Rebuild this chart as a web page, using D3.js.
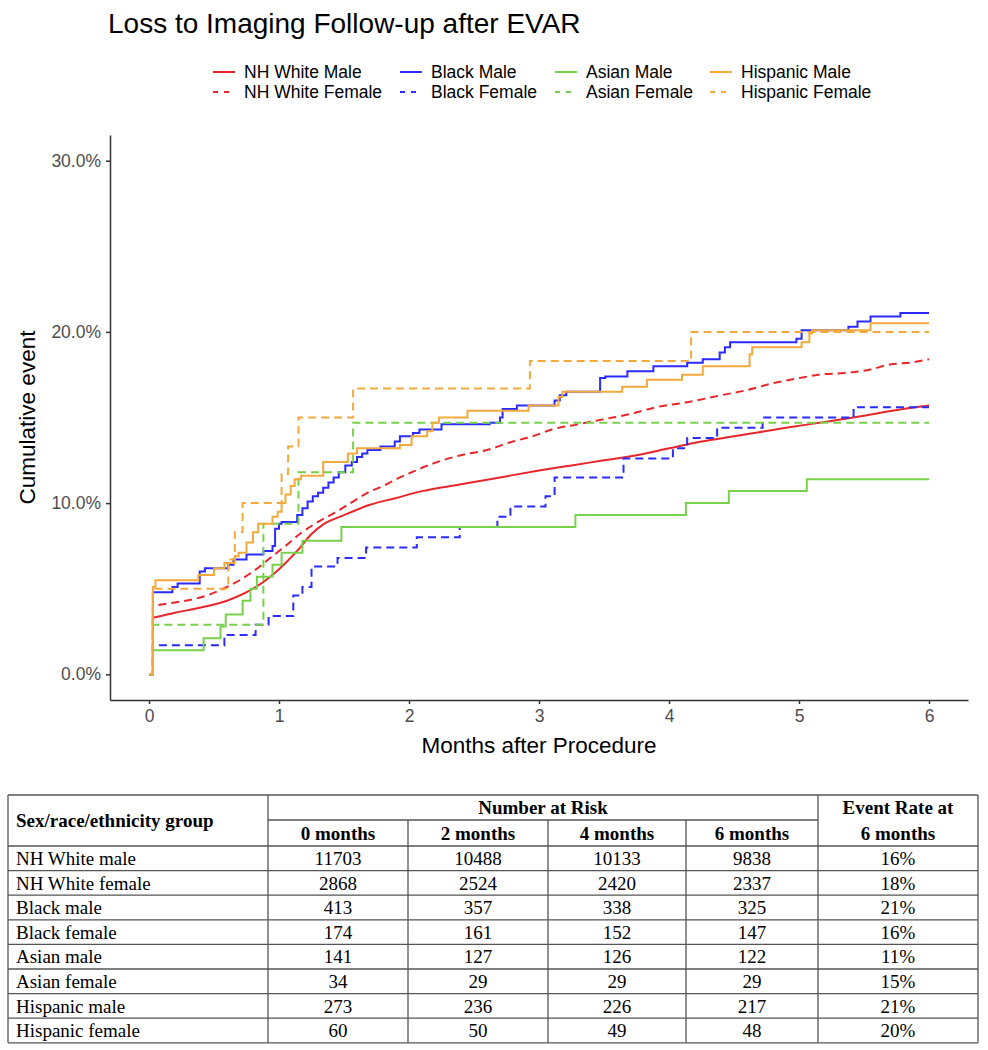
<!DOCTYPE html>
<html>
<head>
<meta charset="utf-8">
<script src="https://cdn.jsdelivr.net/npm/d3@7"></script>
<style>
  body { margin: 0; background: #fff; }
  svg { display: block; }
</style>
</head>
<body>
<svg id="chart" width="988" height="1050"></svg>
<script>
// ---------------- DATA ----------------
const groups = ["NH White Male", "NH White Female", "Black Male", "Black Female",
                "Asian Male", "Asian Female", "Hispanic Male", "Hispanic Female"];
const groupColors = ["#E8262A", "#E8262A", "#2B2BFF", "#2B2BFF", "#78D14B", "#78D14B", "#F3A93C", "#F3A93C"];
const groupDashed = [false, true, false, true, false, true, false, true];

// [months, cumulative event %]
const nhWhiteMale = [[0,0],[0.03,3.3],[0.2,3.6],[0.4,3.9],[0.6,4.3],[0.8,5.0],[0.95,5.8],[1.05,6.5],[1.15,7.3],[1.25,8.2],[1.35,8.8],[1.5,9.3],[1.7,9.9],[1.9,10.3],[2.1,10.7],[2.4,11.1],[2.7,11.5],[3.0,11.9],[3.25,12.2],[3.5,12.5],[3.75,12.8],[4.0,13.2],[4.25,13.6],[4.5,13.9],[4.9,14.4],[5.25,14.8],[5.5,15.1],[5.8,15.5],[6.0,15.7]];
const nhWhiteFemale = [[0,0],[0.03,4.0],[0.2,4.2],[0.4,4.5],[0.6,5.1],[0.8,6.0],[0.95,6.9],[1.05,7.5],[1.16,8.2],[1.3,8.9],[1.42,9.4],[1.55,10.0],[1.68,10.6],[1.8,11.0],[1.93,11.5],[2.05,11.9],[2.18,12.3],[2.4,12.8],[2.6,13.1],[2.8,13.6],[2.95,13.9],[3.1,14.3],[3.3,14.6],[3.5,14.9],[3.7,15.2],[3.9,15.6],[4.15,15.9],[4.4,16.3],[4.6,16.6],[4.8,17.0],[5.0,17.3],[5.15,17.5],[5.35,17.6],[5.55,17.8],[5.7,18.1],[5.85,18.2],[6.0,18.4]];
const blackMale = [[0,0],[0.03,4.8],[0.18,5.1],[0.22,5.3],[0.39,6.0],[0.43,6.2],[0.61,6.4],[0.65,6.7],[0.75,7.0],[0.88,7.2],[0.95,7.5],[0.97,8.5],[1.0,8.8],[1.02,8.9],[1.14,9.3],[1.18,9.7],[1.22,10.1],[1.26,10.4],[1.3,10.6],[1.34,10.9],[1.38,11.2],[1.42,11.5],[1.46,11.8],[1.51,12.2],[1.56,12.4],[1.6,12.7],[1.64,12.9],[1.68,13.1],[1.78,13.3],[1.89,13.6],[1.93,13.9],[2.03,14.1],[2.08,14.3],[2.25,14.6],[2.62,14.7],[2.7,15.0],[2.72,15.5],[2.83,15.7],[3.12,16.0],[3.16,16.3],[3.21,16.5],[3.47,17.3],[3.51,17.4],[3.68,17.7],[3.88,18.0],[4.14,18.2],[4.26,18.4],[4.39,18.8],[4.43,19.1],[4.47,19.4],[4.98,19.6],[5.02,20.1],[5.38,20.3],[5.45,20.6],[5.55,20.9],[5.78,21.1],[6.0,21.1]];
const blackFemale = [[0,0],[0.03,1.7],[0.58,2.3],[0.82,2.9],[0.92,3.4],[1.11,4.6],[1.18,5.1],[1.25,6.3],[1.45,6.8],[1.67,7.4],[2.06,8.0],[2.39,8.6],[2.68,9.2],[2.78,9.8],[3.05,10.4],[3.12,11.5],[3.65,12.6],[4.03,13.2],[4.14,13.8],[4.37,14.4],[4.72,15.0],[5.42,15.6],[6.0,15.6]];
const asianMale = [[0,0],[0.03,1.4],[0.42,2.1],[0.55,2.8],[0.59,3.5],[0.72,4.3],[0.78,5.0],[0.83,5.7],[0.95,6.4],[1.02,7.1],[1.18,7.8],[1.48,8.6],[3.28,9.3],[4.13,10.0],[4.46,10.7],[5.06,11.4],[6.0,11.4]];
const asianFemale = [[0,0],[0.03,2.9],[0.88,8.8],[1.15,11.8],[1.57,14.7],[6.0,14.7]];
const hispanicMale = [[0,0],[0.03,5.1],[0.05,5.5],[0.38,5.8],[0.5,6.2],[0.58,6.5],[0.66,6.9],[0.69,7.1],[0.75,7.7],[0.8,8.3],[0.84,8.8],[0.95,9.2],[0.99,9.5],[1.02,10.0],[1.05,10.5],[1.09,11.0],[1.12,11.4],[1.17,11.6],[1.34,12.4],[1.53,12.9],[1.6,13.2],[1.93,13.4],[2.02,13.9],[2.14,14.2],[2.18,14.7],[2.23,15.0],[2.45,15.4],[2.92,15.7],[3.15,16.2],[3.18,16.5],[3.64,16.8],[3.83,17.2],[4.1,17.5],[4.26,18.0],[4.62,18.7],[4.64,19.1],[5.02,19.4],[5.08,19.9],[5.1,20.1],[5.55,20.5],[6.0,20.5]];
const hispanicFemale = [[0,0],[0.03,5.0],[0.61,6.7],[0.66,8.3],[0.72,10.0],[1.02,11.7],[1.07,13.3],[1.15,15.0],[1.57,16.7],[2.93,18.3],[4.17,20.0],[6.0,20.0]];
const seriesData = [nhWhiteMale, nhWhiteFemale, blackMale, blackFemale, asianMale, asianFemale, hispanicMale, hispanicFemale];
const smoothSeries = [true, true, false, false, false, false, false, false];

const xTicks = [0, 1, 2, 3, 4, 5, 6];
const yTicks = [0, 0.1, 0.2, 0.3];

// table
const tableGroups = ["NH White male", "NH White female", "Black male", "Black female",
                     "Asian male", "Asian female", "Hispanic male", "Hispanic female"];
const riskMonths = ["0 months", "2 months", "4 months", "6 months"];
const atRisk0 = [11703, 2868, 413, 174, 141, 34, 273, 60];
const atRisk2 = [10488, 2524, 357, 161, 127, 29, 236, 50];
const atRisk4 = [10133, 2420, 338, 152, 126, 29, 226, 49];
const atRisk6 = [9838, 2337, 325, 147, 122, 29, 217, 48];
const eventRate6 = ["16%", "18%", "21%", "16%", "11%", "15%", "21%", "20%"];

// ---------------- CHART ----------------
const svg = d3.select("#chart");
const sans = "'Liberation Sans', Arial, sans-serif";
const serif = "'Liberation Serif', 'Times New Roman', serif";

const x = d3.scaleLinear().domain([-0.3, 6.3]).range([110, 968]);
const y = d3.scaleLinear().domain([-0.015, 0.315]).range([700, 135]);

// title
svg.append("text").attr("x", 108).attr("y", 33)
  .attr("font-family", sans).attr("font-size", 28).attr("fill", "#000")
  .text("Loss to Imaging Follow-up after EVAR");

// legend
const legendCols = [213, 400, 555, 710];
const legendRows = [72, 92];
groups.forEach((g, i) => {
  const col = Math.floor(i / 2), row = i % 2;
  const lx = legendCols[col], ly = legendRows[row];
  svg.append("line").attr("x1", lx).attr("x2", lx + 22).attr("y1", ly).attr("y2", ly)
    .attr("stroke", groupColors[i]).attr("stroke-width", 2)
    .attr("stroke-dasharray", groupDashed[i] ? "5,6" : null);
  svg.append("text").attr("x", lx + 31).attr("y", ly).attr("dy", "0.35em")
    .attr("font-family", sans).attr("font-size", 17.5).attr("fill", "#000").text(g);
});

// axes
const yAxis = svg.append("g").attr("transform", `translate(${x.range()[0]},0)`)
  .call(d3.axisLeft(y).tickValues(yTicks).tickFormat(d3.format(".1%")).tickSize(4).tickSizeOuter(0).tickPadding(5));
const xAxis = svg.append("g").attr("transform", `translate(0,${y.range()[0]})`)
  .call(d3.axisBottom(x).tickValues(xTicks).tickFormat(d3.format("d")).tickSize(4).tickSizeOuter(0).tickPadding(6));
[yAxis, xAxis].forEach(a => {
  a.select(".domain").attr("stroke", "#333").attr("stroke-width", 1.5);
  a.selectAll(".tick line").attr("stroke", "#333").attr("stroke-width", 1.5);
  a.selectAll(".tick text").attr("font-family", sans).attr("font-size", 17.5).attr("fill", "#4D4D4D");
});

// axis titles
svg.append("text").attr("transform", `translate(35,${(y.range()[0] + y.range()[1]) / 2}) rotate(-90)`)
  .attr("text-anchor", "middle").attr("font-family", sans).attr("font-size", 22.5).attr("fill", "#000")
  .text("Cumulative event");
svg.append("text").attr("x", (x(0) + x(6)) / 2).attr("y", 753)
  .attr("text-anchor", "middle").attr("font-family", sans).attr("font-size", 22.5).attr("fill", "#000")
  .text("Months after Procedure");

// curves
const plot = svg.append("g");
seriesData.forEach((data, i) => {
  const stepLine = d3.line().x(d => x(d[0])).y(d => y(d[1] / 100)).curve(d3.curveStepAfter);
  const smoothLine = d3.line().x(d => x(d[0])).y(d => y(d[1] / 100)).curve(d3.curveMonotoneX);
  const dStr = smoothSeries[i]
    ? `M${x(data[0][0])},${y(data[0][1] / 100)}H${x(data[1][0])}` + "L" + smoothLine(data.slice(1)).slice(1)
    : stepLine(data);
  plot.append("path")
    .attr("d", dStr)
    .attr("fill", "none")
    .attr("stroke", groupColors[i])
    .attr("stroke-width", 2)
    .attr("stroke-dasharray", groupDashed[i] ? "8,5" : null);
});

// ---------------- TABLE ----------------
const tbl = svg.append("g");
const colX = [8, 268, 408, 548, 686, 818, 978];
const tTop = 795, tMid = 820, tHeadBottom = 846, rowH = 24.6;
const nRows = tableGroups.length;
const tBottom = tHeadBottom + rowH * nRows;
const lineColor = "#555";

function hLine(x1, x2, yy) {
  tbl.append("line").attr("x1", x1).attr("x2", x2).attr("y1", yy).attr("y2", yy)
    .attr("stroke", lineColor).attr("stroke-width", 1.3);
}
function vLine(xx, y1, y2) {
  tbl.append("line").attr("x1", xx).attr("x2", xx).attr("y1", y1).attr("y2", y2)
    .attr("stroke", lineColor).attr("stroke-width", 1.3);
}
hLine(colX[0], colX[6], tTop);
hLine(colX[1], colX[5], tMid);
hLine(colX[0], colX[6], tHeadBottom);
for (let r = 1; r <= nRows; r++) hLine(colX[0], colX[6], tHeadBottom + rowH * r);
vLine(colX[0], tTop, tBottom);
vLine(colX[1], tTop, tBottom);
vLine(colX[5], tTop, tBottom);
vLine(colX[6], tTop, tBottom);
for (let c = 2; c <= 4; c++) vLine(colX[c], tMid, tBottom);

function cellText(tx, ty, str, anchor, bold) {
  tbl.append("text").attr("x", tx).attr("y", ty).attr("dy", "0.35em")
    .attr("text-anchor", anchor).attr("font-family", serif).attr("font-size", 19)
    .attr("font-weight", bold ? "bold" : "normal").attr("fill", "#000").text(str);
}
cellText(16, (tTop + tHeadBottom) / 2, "Sex/race/ethnicity group", "start", true);
cellText((colX[1] + colX[5]) / 2, (tTop + tMid) / 2, "Number at Risk", "middle", true);
riskMonths.forEach((m, i) => cellText((colX[i + 1] + colX[i + 2]) / 2, (tMid + tHeadBottom) / 2, m, "middle", true));
cellText((colX[5] + colX[6]) / 2, (tTop + tMid) / 2, "Event Rate at", "middle", true);
cellText((colX[5] + colX[6]) / 2, (tMid + tHeadBottom) / 2, "6 months", "middle", true);

const riskCols = [atRisk0, atRisk2, atRisk4, atRisk6];
tableGroups.forEach((g, r) => {
  const cy = tHeadBottom + rowH * r + rowH / 2;
  cellText(16, cy, g, "start", false);
  riskCols.forEach((col, c) => cellText((colX[c + 1] + colX[c + 2]) / 2, cy, String(col[r]), "middle", false));
  cellText((colX[5] + colX[6]) / 2, cy, eventRate6[r], "middle", false);
});
</script>
</body>
</html>
